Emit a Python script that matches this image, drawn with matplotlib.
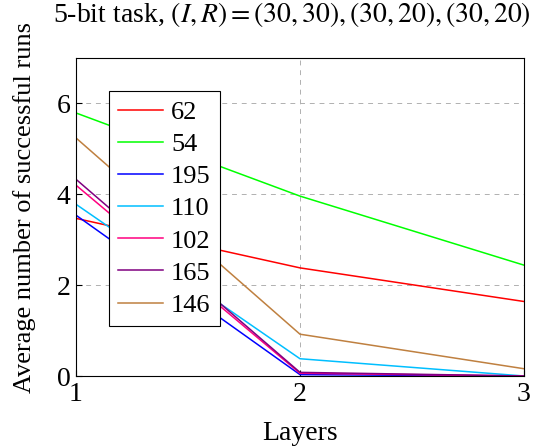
import matplotlib
matplotlib.use("Agg")
import matplotlib.pyplot as plt

plt.rcParams["font.family"] = "Liberation Serif"
plt.rcParams["mathtext.fontset"] = "stix"

layers = [1, 2, 3]
series_names = ["62", "54", "195", "110", "102", "165", "146"]
series_colors = ["#ff0000", "#00ff00", "#0000ff", "#00bfff", "#ff0080", "#800080", "#bf8040"]

v62 = [3.47, 2.38, 1.64]
v54 = [5.79, 3.96, 2.44]
v195 = [3.54, 0.03, 0.0]
v110 = [3.78, 0.38, 0.0]
v102 = [4.20, 0.06, 0.0]
v165 = [4.33, 0.08, 0.0]
v146 = [5.24, 0.92, 0.16]
all_values = [v62, v54, v195, v110, v102, v165, v146]

fig = plt.figure(figsize=(5.36, 4.46), dpi=100)
ax = fig.add_axes([76 / 536, 70 / 446, 448 / 536, 318 / 446])

for name, vals, col in zip(series_names, all_values, series_colors):
    ax.plot(layers, vals, color=col, lw=1.1, label=name)

ax.set_xlim(1, 3)
ax.set_ylim(0, 7)
ax.set_xticks([1, 2, 3])
ax.set_yticks([0, 2, 4, 6])
ax.grid(True, color="#b0b0b0", linestyle=(0, (5, 5)), lw=0.7)
ax.tick_params(direction="in", labelsize=20, length=4, pad=4)
for s in ax.spines.values():
    s.set_linewidth(0.8)

ax.set_xlabel("Layers", fontsize=20)
ax.xaxis.set_label_coords(0.5, -0.14)
ax.set_ylabel("Average number of successful runs", fontsize=19)
ax.yaxis.set_label_coords(-0.09, 0.53)
ax.set_title("5-bit task, $(I,R) = (30,30), (30,20), (30,20)$", fontsize=20, x=0.482, pad=26)

leg = ax.legend(loc="upper left", bbox_to_anchor=(0.074, 0.896), fontsize=19,
                fancybox=False, edgecolor="black", framealpha=1, borderaxespad=0,
                handlelength=1.7, handletextpad=0.3, labelspacing=0.33, borderpad=0.35)
leg.get_frame().set_linewidth(0.8)

plt.savefig("out.png", dpi=100)
plt.close()
